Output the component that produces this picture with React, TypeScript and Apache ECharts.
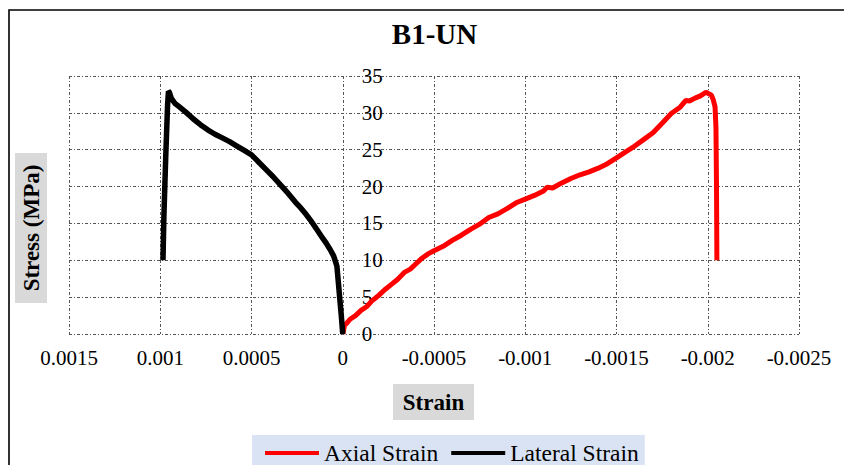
import React, { useEffect, useRef } from "react";
import * as echarts from "echarts";

const axialStrain = [
  0, -0.00001, -0.00002, -0.00004, -0.00007, -0.0001, -0.00013, -0.00016, -0.0002, -0.00023, -0.00026,
  -0.0003, -0.00034, -0.00037, -0.0004, -0.00043, -0.00047, -0.0005, -0.00055, -0.0006, -0.00065,
  -0.0007, -0.00075, -0.0008, -0.00085, -0.0009, -0.00095, -0.001, -0.00105, -0.0011, -0.00112, -0.00115,
  -0.0012, -0.00125, -0.0013, -0.00135, -0.0014, -0.00145, -0.0015, -0.00155, -0.0016, -0.00165,
  -0.0017, -0.00175, -0.0018, -0.00185, -0.00188, -0.0019, -0.00193, -0.00196, -0.00199, -0.00202, -0.00203,
  -0.00204, -0.002045, -0.002048, -0.00205,
];
const axialStress = [
  0, 1.2, 1.4, 2.0, 2.5, 3.2, 3.7, 4.5, 5.3, 6.0, 6.6,
  7.4, 8.4, 8.8, 9.5, 10.2, 10.9, 11.3, 11.9, 12.7, 13.4,
  14.2, 14.9, 15.8, 16.3, 17.0, 17.8, 18.3, 18.8, 19.4, 19.9, 19.8,
  20.5, 21.1, 21.6, 22.0, 22.5, 23.1, 23.9, 24.7, 25.5, 26.4,
  27.3, 28.6, 29.9, 30.8, 31.7, 31.6, 32.0, 32.3, 32.8, 32.4, 31.8,
  30.8, 28.0, 20.0, 10.0,
];

const lateralStrain = [
  0, 0.000008, 0.000016, 0.000024, 0.000032, 0.00005, 0.00007, 0.00009, 0.00011, 0.00014,
  0.00017, 0.0002, 0.00023, 0.00026, 0.0003, 0.00034, 0.00038, 0.00042, 0.00046, 0.0005,
  0.00054, 0.00058, 0.00062, 0.00066, 0.0007, 0.00074, 0.00078, 0.00082, 0.00086, 0.0009,
  0.00092, 0.00094, 0.00095, 0.000955, 0.00096, 0.00097, 0.00098, 0.000985,
];
const lateralStress = [
  0, 2.5, 4.7, 7.0, 9.2, 10.6, 11.5, 12.3, 13.0, 14.1,
  15.2, 16.2, 17.1, 17.9, 19.1, 20.2, 21.3, 22.3, 23.3, 24.3,
  24.9, 25.5, 26.1, 26.6, 27.1, 27.7, 28.4, 29.2, 30.1, 30.9,
  31.3, 32.0, 32.8, 32.9, 31.0, 24.0, 16.0, 10.0,
];

const seriesNames = ["Axial Strain", "Lateral Strain"];
const chartTitle = "B1-UN";
const xAxisTitle = "Strain";
const yAxisTitle = "Stress (MPa)";

const X_MIN = -0.0025;
const X_MAX = 0.0015;
const FONT = "'Liberation Serif', 'Times New Roman', serif";

function fmtX(v: number): string {
  const r = Math.round(v * 1e5) / 1e5;
  if (r === 0) return "0";
  return String(r);
}

export default function App() {
  const ref = useRef<HTMLDivElement>(null);

  useEffect(() => {
    document.body.style.margin = "0";
    if (!ref.current) return;
    const chart = echarts.init(ref.current, undefined, { renderer: "svg" });
    const axialData = axialStrain.map((x, i) => [x, axialStress[i]]);
    const lateralData = lateralStrain.map((x, i) => [x, lateralStress[i]]);
    const gridLine = { show: true, lineStyle: { color: "#555", width: 1, type: [3, 2, 1, 2] as any } };

    const gridLeft = 69;
    const gridRight = 45;
    const gridWidth = 844 - gridLeft - gridRight;
    // x axis is inverted: zero sits (0 - X_MIN)/(X_MAX - X_MIN) of the width from the right edge
    const yAxisOffset = -gridWidth * ((0 - X_MIN) / (X_MAX - X_MIN));

    chart.setOption({
      animation: false,
      backgroundColor: "#fff",
      grid: { left: gridLeft, right: gridRight, top: 76, bottom: 131, containLabel: false },
      xAxis: {
        type: "value",
        inverse: true,
        min: X_MIN,
        max: X_MAX,
        interval: 0.0005,
        axisLine: { show: false, onZero: false },
        axisTick: { show: false },
        splitLine: gridLine,
        axisLabel: {
          formatter: fmtX,
          fontFamily: FONT,
          fontSize: 21,
          color: "#000",
          margin: 13,
        },
      },
      yAxis: {
        type: "value",
        min: 0,
        max: 35,
        interval: 5,
        position: "right",
        offset: yAxisOffset,
        axisLine: { show: false },
        axisTick: { show: false },
        splitLine: gridLine,
        axisLabel: {
          fontFamily: FONT,
          fontSize: 21,
          color: "#000",
          margin: 19,
          align: "left",
        },
      },
      legend: {
        data: seriesNames,
        left: 252,
        top: 435,
        padding: [6, 6, 8, 13],
        backgroundColor: "#dae3f3",
        icon: "rect",
        itemWidth: 54,
        itemHeight: 4,
        itemGap: 13,
        textStyle: { fontFamily: FONT, fontSize: 23.5, color: "#000" },
      },
      series: [
        {
          name: seriesNames[0],
          type: "line",
          data: axialData,
          symbol: "none",
          showSymbol: false,
          color: "#ff0000",
          lineStyle: { color: "#ff0000", width: 5 },
          z: 3,
        },
        {
          name: seriesNames[1],
          type: "line",
          data: lateralData,
          symbol: "none",
          showSymbol: false,
          color: "#000000",
          lineStyle: { color: "#000000", width: 5.5 },
          z: 3,
        },
      ],
      graphic: [
        {
          type: "rect",
          shape: { x: 9, y: 10, width: 900, height: 500 },
          style: { fill: "none", stroke: "#000", lineWidth: 1.6 },
          silent: true,
        },
        {
          type: "text",
          x: 434.5,
          y: 34,
          style: {
            text: chartTitle,
            font: `bold 29px ${FONT}`,
            fill: "#000",
            align: "center",
            verticalAlign: "middle",
          },
        },
        {
          type: "rect",
          shape: { x: 15, y: 153, width: 32, height: 150 },
          style: { fill: "#d9d9d9" },
        },
        {
          type: "text",
          x: 31,
          y: 228,
          rotation: Math.PI / 2,
          style: {
            text: yAxisTitle,
            font: `bold 23px ${FONT}`,
            fill: "#000",
            align: "center",
            verticalAlign: "middle",
          },
        },
        {
          type: "rect",
          shape: { x: 393, y: 384, width: 81, height: 36 },
          style: { fill: "#d9d9d9" },
        },
        {
          type: "text",
          x: 433.5,
          y: 402,
          style: {
            text: xAxisTitle,
            font: `bold 23px ${FONT}`,
            fill: "#000",
            align: "center",
            verticalAlign: "middle",
          },
        },
      ],
    });
    return () => chart.dispose();
  }, []);

  return <div ref={ref} style={{ width: 844, height: 465 }} />;
}
